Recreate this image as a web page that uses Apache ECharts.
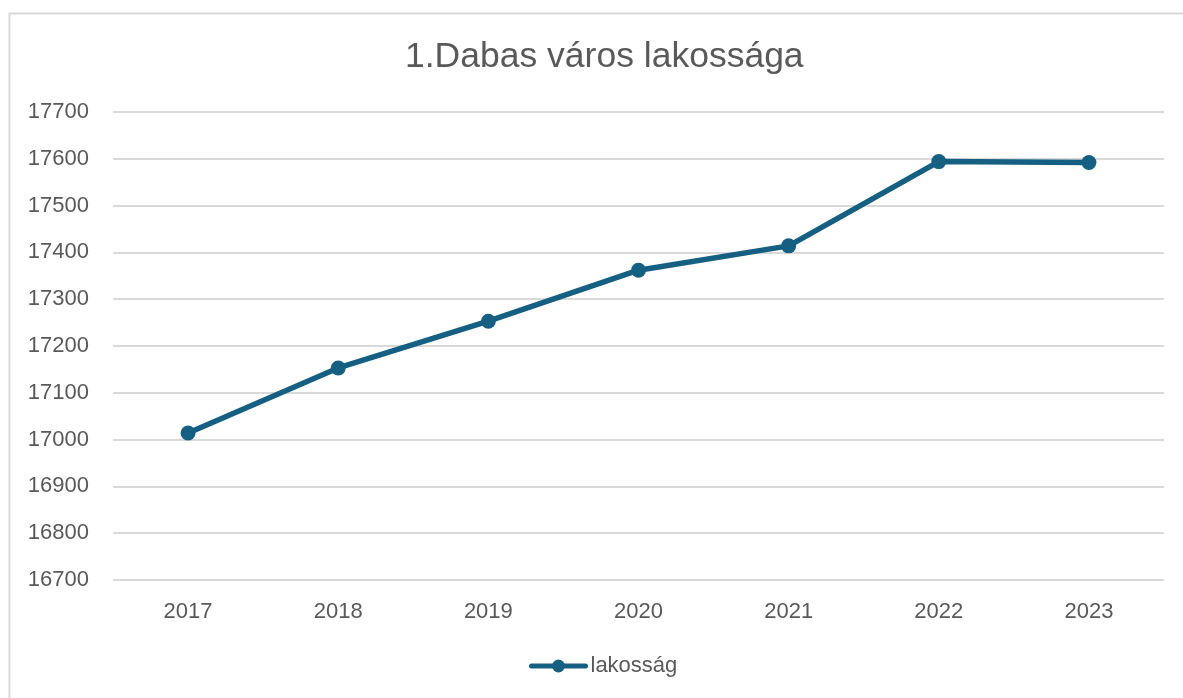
<!DOCTYPE html>
<html>
<head>
<meta charset="utf-8">
<script src="https://cdn.jsdelivr.net/npm/echarts@6/dist/echarts.min.js"></script>
<style>
  html, body { margin: 0; padding: 0; background: #fff; }
  #chart { width: 1183px; height: 698px; }
</style>
</head>
<body>
<div id="chart"></div>
<script>
// adatok
const years = ['2017', '2018', '2019', '2020', '2021', '2022', '2023']
const lakossag = [17014, 17153, 17253, 17362, 17414, 17594, 17592]
const yMin = 16700, yMax = 17700, yStep = 100

const textColor = '#595959'
const lineColor = '#156082'
const font = '"Liberation Sans", Arial, sans-serif'

const chart = echarts.init(document.getElementById('chart'), null, { renderer: 'canvas' })

chart.setOption({
  animation: false,
  backgroundColor: '#fff',
  // keret a diagram körül
  graphic: [{
    type: 'rect',
    silent: true,
    shape: { x: 9.5, y: 13.5, width: 1220, height: 720 },
    style: { fill: 'none', stroke: '#d9d9d9', lineWidth: 2 }
  }],
  title: {
    text: '1.Dabas város lakossága',
    left: 400,
    top: 34,
    textStyle: {
      color: textColor,
      fontFamily: font,
      fontSize: 35.5,
      fontWeight: 'normal'
    }
  },
  legend: {
    data: ['lakosság'],
    left: 524,
    top: 650,
    itemWidth: 54,
    itemHeight: 16,
    itemGap: 10,
    lineStyle: { width: 5, cap: 'round' },
    textStyle: { color: textColor, fontFamily: font, fontSize: 22 }
  },
  grid: {
    left: 113,
    right: 19,
    top: 112,
    bottom: 118,
    containLabel: false
  },
  xAxis: {
    type: 'category',
    data: years,
    boundaryGap: true,
    axisLine: { show: false },
    axisTick: { show: false },
    axisLabel: {
      color: textColor,
      fontFamily: font,
      fontSize: 22,
      margin: 21
    },
    splitLine: { show: false }
  },
  yAxis: {
    type: 'value',
    min: yMin,
    max: yMax,
    interval: yStep,
    axisLine: { show: false },
    axisTick: { show: false },
    axisLabel: {
      color: textColor,
      fontFamily: font,
      fontSize: 22,
      margin: 24,
      formatter: v => String(v)
    },
    splitLine: { lineStyle: { color: '#d9d9d9', width: 2 } }
  },
  series: [{
    name: 'lakosság',
    type: 'line',
    data: lakossag,
    symbol: 'circle',
    symbolSize: 15,
    showAllSymbol: true,
    itemStyle: { color: lineColor },
    lineStyle: { color: lineColor, width: 5.5, cap: 'round' }
  }]
})
</script>
</body>
</html>
